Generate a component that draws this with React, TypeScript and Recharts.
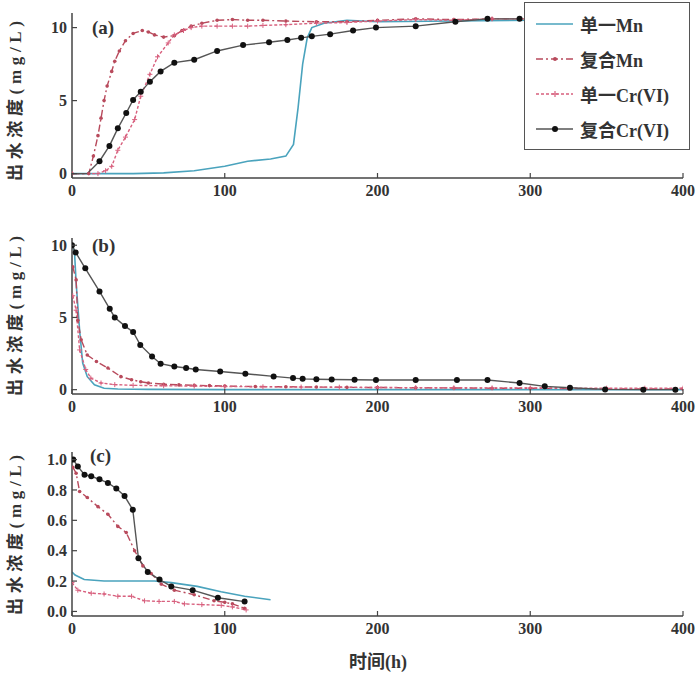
import React from "react";
import { LineChart, Line, XAxis, YAxis, Legend } from "recharts";

// shared axes
const X_TICKS = [0, 100, 200, 300, 400];
const Y_TICKS_10 = [0, 5, 10];
const Y_TICKS_1 = [0, 0.2, 0.4, 0.6, 0.8, 1.0];

const SERIES_NAMES = ["单一Mn", "复合Mn", "单一Cr(VI)", "复合Cr(VI)"];

// (a) breakthrough
const A_MN1_T = [0, 10, 20, 40, 60, 80, 100, 115, 130, 140, 145, 148, 151, 154, 157, 165, 180, 200, 250, 300];
const A_MN1_V = [0, 0, 0, 0, 0.05, 0.2, 0.5, 0.85, 1.0, 1.2, 2.0, 4.5, 7.5, 9.3, 10.0, 10.3, 10.5, 10.4, 10.45, 10.5];
const A_MN2_T = [0, 11, 14, 17, 19, 21, 23, 26, 28, 31, 35, 40, 46, 50, 54, 60, 67, 72, 78, 85, 95, 105, 115, 125, 140, 160, 180, 200, 225, 250, 275, 300];
const A_MN2_V = [0, 0, 1.2, 2.6, 3.8, 5.0, 6.0, 7.0, 7.7, 8.4, 9.1, 9.6, 9.8, 9.7, 9.5, 9.35, 9.45, 9.8, 10.1, 10.3, 10.5, 10.55, 10.5, 10.5, 10.45, 10.4, 10.4, 10.5, 10.6, 10.55, 10.6, 10.6];
const A_CR1_T = [0, 17, 22, 26, 30, 35, 41, 45, 51, 56, 63, 67, 73, 78, 85, 95, 105, 115, 125, 140, 160, 180, 200, 225, 250, 275, 300];
const A_CR1_V = [0, 0, 0.2, 0.5, 1.6, 2.5, 3.7, 5.3, 6.8, 8.0, 8.95, 9.5, 9.8, 10.0, 10.1, 10.1, 10.1, 10.1, 10.15, 10.2, 10.3, 10.35, 10.45, 10.55, 10.5, 10.6, 10.6];
const A_CR2_T = [0, 10, 18, 24.5, 30, 35.5, 40, 45, 51, 58, 67, 80, 95, 112, 129, 141, 150, 157, 169, 184, 199, 225, 251, 272, 293];
const A_CR2_V = [0, 0, 0.85, 1.9, 3.1, 4.15, 5.05, 5.6, 6.3, 7.0, 7.6, 7.8, 8.4, 8.8, 9.0, 9.15, 9.3, 9.4, 9.55, 9.8, 10.0, 10.1, 10.4, 10.6, 10.6];

// (b) elution
const B_MN1_T = [0, 1.6, 2.7, 5, 7, 10, 14.7, 21, 30, 50, 100, 200, 300, 400];
const B_MN1_V = [10, 9.6, 7.4, 4.1, 1.84, 0.9, 0.34, 0.1, 0.05, 0.02, 0, 0, 0, 0];
const B_MN2_T = [0.5, 2.7, 3.8, 6, 10, 16, 23.5, 32, 39, 45, 50, 60, 70, 80, 90, 100, 120, 140, 160, 180, 200, 225, 250, 275, 300, 325, 350, 375, 400];
const B_MN2_V = [8.5, 7.6, 4.8, 3.45, 2.4, 1.95, 1.5, 0.9, 0.69, 0.55, 0.46, 0.38, 0.33, 0.3, 0.28, 0.25, 0.22, 0.2, 0.18, 0.16, 0.15, 0.13, 0.12, 0.1, 0.1, 0.08, 0.06, 0.05, 0.05];
const B_CR1_T = [0.5, 2.7, 5, 9, 12.3, 19, 28, 40, 60, 80, 100, 125, 150, 175, 200, 225, 250, 275, 300, 325, 350, 375, 400];
const B_CR1_V = [6.5, 5.5, 2.75, 1.4, 0.8, 0.46, 0.35, 0.3, 0.27, 0.25, 0.22, 0.2, 0.18, 0.17, 0.15, 0.14, 0.13, 0.12, 0.12, 0.11, 0.1, 0.1, 0.1];
const B_CR2_T = [0, 2.4, 8.7, 18, 24.7, 28, 34.7, 40, 44.7, 52.4, 58, 67, 74.7, 81, 97, 113.5, 132, 144.7, 151, 160, 170, 185, 199, 225, 252, 272, 293, 309.5, 326, 349, 374, 395];
const B_CR2_V = [10, 9.5, 8.4, 6.8, 5.6, 5.0, 4.4, 4.0, 3.1, 2.3, 1.8, 1.6, 1.5, 1.4, 1.26, 1.1, 0.92, 0.8, 0.75, 0.72, 0.7, 0.69, 0.67, 0.67, 0.67, 0.67, 0.46, 0.23, 0.13, 0.02, 0, 0];

// (c) second elution
const C_MN1_T = [0, 2, 8, 21, 39, 54, 65, 82, 97.6, 113, 130];
const C_MN1_V = [0.26, 0.24, 0.21, 0.2, 0.2, 0.2, 0.19, 0.165, 0.13, 0.1, 0.077];
const C_MN2_T = [0.5, 2.7, 5, 10, 17, 23.5, 30, 35.5, 41, 46.4, 51.8, 58.4, 67, 80, 93, 100, 105, 113];
const C_MN2_V = [0.95, 0.91, 0.79, 0.75, 0.69, 0.64, 0.56, 0.52, 0.4, 0.3, 0.25, 0.18, 0.14, 0.11, 0.07, 0.06, 0.05, 0.02];
const C_CR1_T = [0, 3.8, 12.6, 21, 30, 39, 47.5, 57, 67, 73.6, 85, 97.7, 105, 114];
const C_CR1_V = [0.19, 0.14, 0.12, 0.115, 0.1, 0.1, 0.07, 0.066, 0.066, 0.05, 0.045, 0.04, 0.03, 0.01];
const C_CR2_T = [0.8, 3.8, 8.2, 12.6, 18, 23.5, 29, 34.4, 39.8, 43.5, 49.6, 57.3, 65, 79, 95.5, 113];
const C_CR2_V = [1.0, 0.955, 0.9, 0.89, 0.87, 0.846, 0.81, 0.76, 0.67, 0.35, 0.26, 0.21, 0.165, 0.14, 0.09, 0.065];

const zip = (t: number[], v: number[]) => t.map((x, i) => ({ t: x, v: v[i] }));

const AXIS = "#444";
const NUM_FONT = "'Liberation Serif', 'Noto Sans CJK SC', serif";

const STYLES = [
  { stroke: "#4aa3bd", dash: undefined, width: 1.6, marker: "none" },
  { stroke: "#b84a5c", dash: "7 3 2 3", width: 1.4, marker: "dot" },
  { stroke: "#d8607e", dash: "3 2", width: 1.4, marker: "plus" },
  { stroke: "#555555", dash: undefined, width: 1.4, marker: "big" },
];

function makeDot(kind: string, color: string) {
  return (p: any) => {
    const { cx, cy, index, payload } = p;
    const k = `d-${index}`;
    if (kind === "none" || cx == null || cy == null) return <g key={k} />;
    if (kind === "big") {
      if (payload && payload.v === 0 && payload.t < 15) return <g key={k} />;
      return <circle key={k} cx={cx} cy={cy} r={3} fill="#111" stroke="none" />;
    }
    if (kind === "dot") return <circle key={k} cx={cx} cy={cy} r={1.8} fill={color} stroke="none" />;
    return (
      <path key={k} d={`M${cx - 2.5},${cy}H${cx + 2.5}M${cx},${cy - 2.5}V${cy + 2.5}`} stroke={color} strokeWidth={1} fill="none" />
    );
  };
}

const XTick = (p: any) => {
  const { x, y, payload } = p;
  const axisY = y - 6;
  return (
    <g>
      <line x1={x} x2={x} y1={axisY} y2={axisY - 5} stroke={AXIS} strokeWidth={1.2} />
      <text x={x} y={y} dy="0.75em" textAnchor="middle" fontFamily={NUM_FONT} fontWeight="bold" fontSize={16} fill="#333">
        {payload.value}
      </text>
    </g>
  );
};

const makeYTick = (fmt: (v: number) => string) => (p: any) => {
  const { x, y, payload } = p;
  const axisX = x + 5;
  return (
    <g>
      <line x1={axisX} x2={axisX + 5} y1={y} y2={y} stroke={AXIS} strokeWidth={1.2} />
      <text x={x} y={y} dy="0.35em" textAnchor="end" fontFamily={NUM_FONT} fontWeight="bold" fontSize={16} fill="#333">
        {fmt(payload.value)}
      </text>
    </g>
  );
};

function LegendSample({ i }: { i: number }) {
  const s = STYLES[i];
  return (
    <svg width={40} height={14} style={{ display: "block" }}>
      <line x1={1} x2={38} y1={7} y2={7} stroke={s.stroke} strokeWidth={1.3} strokeDasharray={s.dash} />
      {s.marker === "dot" && <circle cx={20} cy={7} r={2} fill={s.stroke} />}
      {s.marker === "plus" && <path d="M17,7H23M20,4V10" stroke={s.stroke} strokeWidth={1.2} />}
      {s.marker === "big" && <circle cx={20} cy={7} r={3} fill="#111" />}
    </svg>
  );
}

const renderLegend = () => (
  <div
    style={{
      width: 166,
      height: 148,
      boxSizing: "border-box",
      border: "1.5px solid #555",
      background: "#fff",
      paddingTop: 3,
    }}
  >
    {SERIES_NAMES.map((n, i) => (
      <div key={n} style={{ display: "flex", alignItems: "center", height: 35 }}>
        <div style={{ width: 10 }} />
        <LegendSample i={i} />
        <span
          style={{
            marginLeft: 5,
            fontFamily: NUM_FONT,
            fontWeight: "bold",
            fontSize: 18,
            color: "#333",
            whiteSpace: "nowrap",
          }}
        >
          {n}
        </span>
      </div>
    ))}
  </div>
);

type PanelProps = {
  top: number;
  height: number;
  marginTop: number;
  domain: [number, number];
  ticks: number[];
  fmt: (v: number) => string;
  series: { t: number; v: number }[][];
  legend?: boolean;
};

function Panel({ top, height, marginTop, domain, ticks, fmt, series, legend }: PanelProps) {
  return (
    <div style={{ position: "absolute", left: 0, top }}>
      <LineChart width={700} height={height} margin={{ top: marginTop, right: 17, bottom: 0, left: 12 }}>
        <XAxis
          type="number"
          dataKey="t"
          domain={[0, 400]}
          ticks={X_TICKS}
          interval={0}
          allowDataOverflow
          height={30}
          tickSize={0}
          tickMargin={6}
          tickLine={false}
          axisLine={{ stroke: AXIS, strokeWidth: 1.5 }}
          tick={XTick}
        />
        <YAxis
          type="number"
          domain={domain}
          ticks={ticks}
          interval={0}
          allowDataOverflow
          width={60}
          tickSize={0}
          tickMargin={5}
          tickLine={false}
          axisLine={{ stroke: AXIS, strokeWidth: 1.5 }}
          tick={makeYTick(fmt)}
        />
        {series.map((d, i) => (
          <Line
            key={SERIES_NAMES[i]}
            name={SERIES_NAMES[i]}
            data={d}
            dataKey="v"
            type="linear"
            stroke={STYLES[i].stroke}
            strokeWidth={STYLES[i].width}
            strokeDasharray={STYLES[i].dash}
            dot={makeDot(STYLES[i].marker, STYLES[i].stroke)}
            activeDot={false}
            isAnimationActive={false}
          />
        ))}
        {legend && (
          <Legend
            layout="vertical"
            align="center"
            verticalAlign="middle"
            content={renderLegend}
            wrapperStyle={{ left: 524, top: 2, width: 166, height: 148 }}
          />
        )}
      </LineChart>
    </div>
  );
}

const LABEL_FONT = "'Liberation Serif', 'Noto Sans CJK SC', serif";

export default function App() {
  const fmt10 = (v: number) => String(v);
  const fmt1 = (v: number) => v.toFixed(1);
  return (
    <div style={{ position: "absolute", left: 0, top: 0, width: 700, height: 680, background: "#fff" }}>
      <Panel
        top={0}
        height={208}
        marginTop={13}
        domain={[-0.3, 11]}
        ticks={Y_TICKS_10}
        fmt={fmt10}
        series={[zip(A_MN1_T, A_MN1_V), zip(A_MN2_T, A_MN2_V), zip(A_CR1_T, A_CR1_V), zip(A_CR2_T, A_CR2_V)]}
        legend
      />
      <Panel
        top={200}
        height={224}
        marginTop={38}
        domain={[-0.3, 10.5]}
        ticks={Y_TICKS_10}
        fmt={fmt10}
        series={[zip(B_MN1_T, B_MN1_V), zip(B_MN2_T, B_MN2_V), zip(B_CR1_T, B_CR1_V), zip(B_CR2_T, B_CR2_V)]}
      />
      <Panel
        top={420}
        height={226}
        marginTop={32}
        domain={[-0.03, 1.05]}
        ticks={Y_TICKS_1}
        fmt={fmt1}
        series={[zip(C_MN1_T, C_MN1_V), zip(C_MN2_T, C_MN2_V), zip(C_CR1_T, C_CR1_V), zip(C_CR2_T, C_CR2_V)]}
      />
      <svg width={700} height={680} style={{ position: "absolute", left: 0, top: 0, pointerEvents: "none" }}>
        <g fontFamily={LABEL_FONT} fontWeight="bold" fill="#333">
          <text x={92} y={34} fontSize={19}>(a)</text>
          <text x={92} y={252} fontSize={19}>(b)</text>
          <text x={90} y={462} fontSize={19}>(c)</text>
          {[101, 316, 535].map((cy) => (
            <text
              key={cy}
              transform={`translate(21, ${cy}) rotate(-90)`}
              textAnchor="middle"
              fontSize={17}
              textLength={160}
              lengthAdjust="spacing"
            >
              出水浓度(mg/L)
            </text>
          ))}
          <text x={378} y={668} textAnchor="middle" fontSize={18}>时间(h)</text>
        </g>
      </svg>
    </div>
  );
}
